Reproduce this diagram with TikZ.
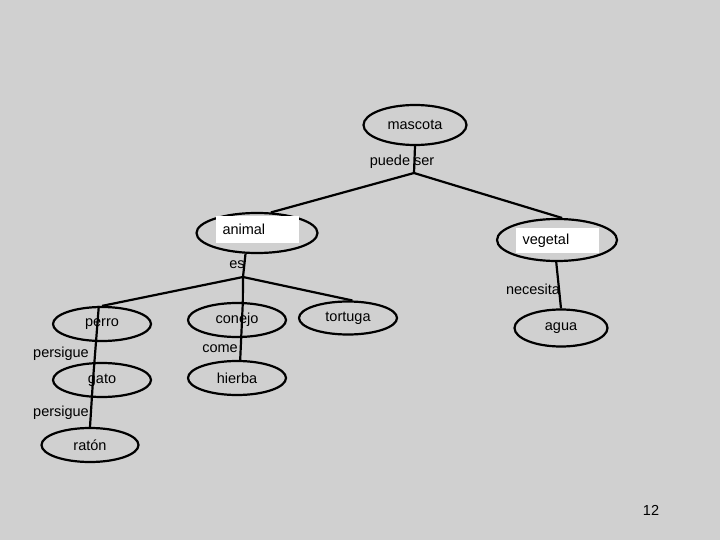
\documentclass[tikz,border=0pt]{standalone}
\usepackage{fontspec}
\setmainfont{Liberation Sans}
\usepackage{xcolor}
\usepackage{tikz}
\usetikzlibrary{shapes.geometric,calc}

\definecolor{slidegray}{RGB}{208,208,208}

\begin{document}
\begin{tikzpicture}[x=1pt, y=-1pt, line width=2.2pt, font=\fontsize{14.5}{16}\selectfont,
  concept/.style={draw, ellipse, minimum width=98pt, minimum height=34pt, inner sep=0pt},
  wbox/.style={fill=white, minimum height=26pt, text width=70pt, inner xsep=6.5pt, align=left},
  link/.style={inner sep=1pt}]
  \fill[slidegray] (0,0) rectangle (720,540);

  % concepts
  \node[concept, minimum width=103pt, minimum height=40pt] (mascota) at (415,125) {mascota};
  \node[concept, minimum width=121pt, minimum height=40pt] (animal) at (257,233) {};
  \node[wbox] (animalbox) at (257.5,229.5) {animal};
  \node[concept, minimum width=120pt, minimum height=42pt] (vegetal) at (557,240) {};
  \node[wbox, minimum height=25pt] (vegetalbox) at (557.5,240.5) {vegetal};
  \node[concept] (perro) at (102,324) {perro};
  \node[concept] (gato) at (102,380) {gato};
  \node[concept, minimum width=97pt] (raton) at (90,445) {ratón};
  \node[concept] (conejo) at (237,320) {conejo};
  \node[concept] (hierba) at (237,378) {hierba};
  \node[concept, minimum height=33pt] (tortuga) at (348,318) {tortuga};
  \node[concept, minimum width=93pt, minimum height=37pt] (agua) at (561,328) {agua};

  % branch points
  \coordinate (puedeser) at (414,173);
  \coordinate (es) at (243,277);

  % links
  \draw (mascota.south) -- (puedeser);
  \draw (puedeser) -- (animal.56);
  \draw (puedeser) -- (vegetal.77);
  \draw (animal.241) -- (es);
  \draw (es) -- (perro.north);
  \draw (es) -- (conejo.72);
  \draw (es) -- (tortuga.76);
  \draw (conejo.72) -- (hierba.80);
  \draw (perro.100) -- ($(gato.center)+(-9,0)$);
  \draw ($(gato.center)+(-9,0)$) -- (raton.north);
  \draw (vegetal.268) -- (agua.north);

  % link labels
  \node[link] (puedeserlbl) at (402,162) {puede ser};
  \node[link] (eslbl) at (237,265) {es};
  \node[link] (necesitalbl) at (533,289) {necesita};
  \node[link] (persigue1) at (61,354) {persigue};
  \node[link] (persigue2) at (61,413) {persigue};
  \node[link] (comelbl) at (220,349) {come};

  \node[link] (pagenum) at (651,510) {12};
\end{tikzpicture}
\end{document}
